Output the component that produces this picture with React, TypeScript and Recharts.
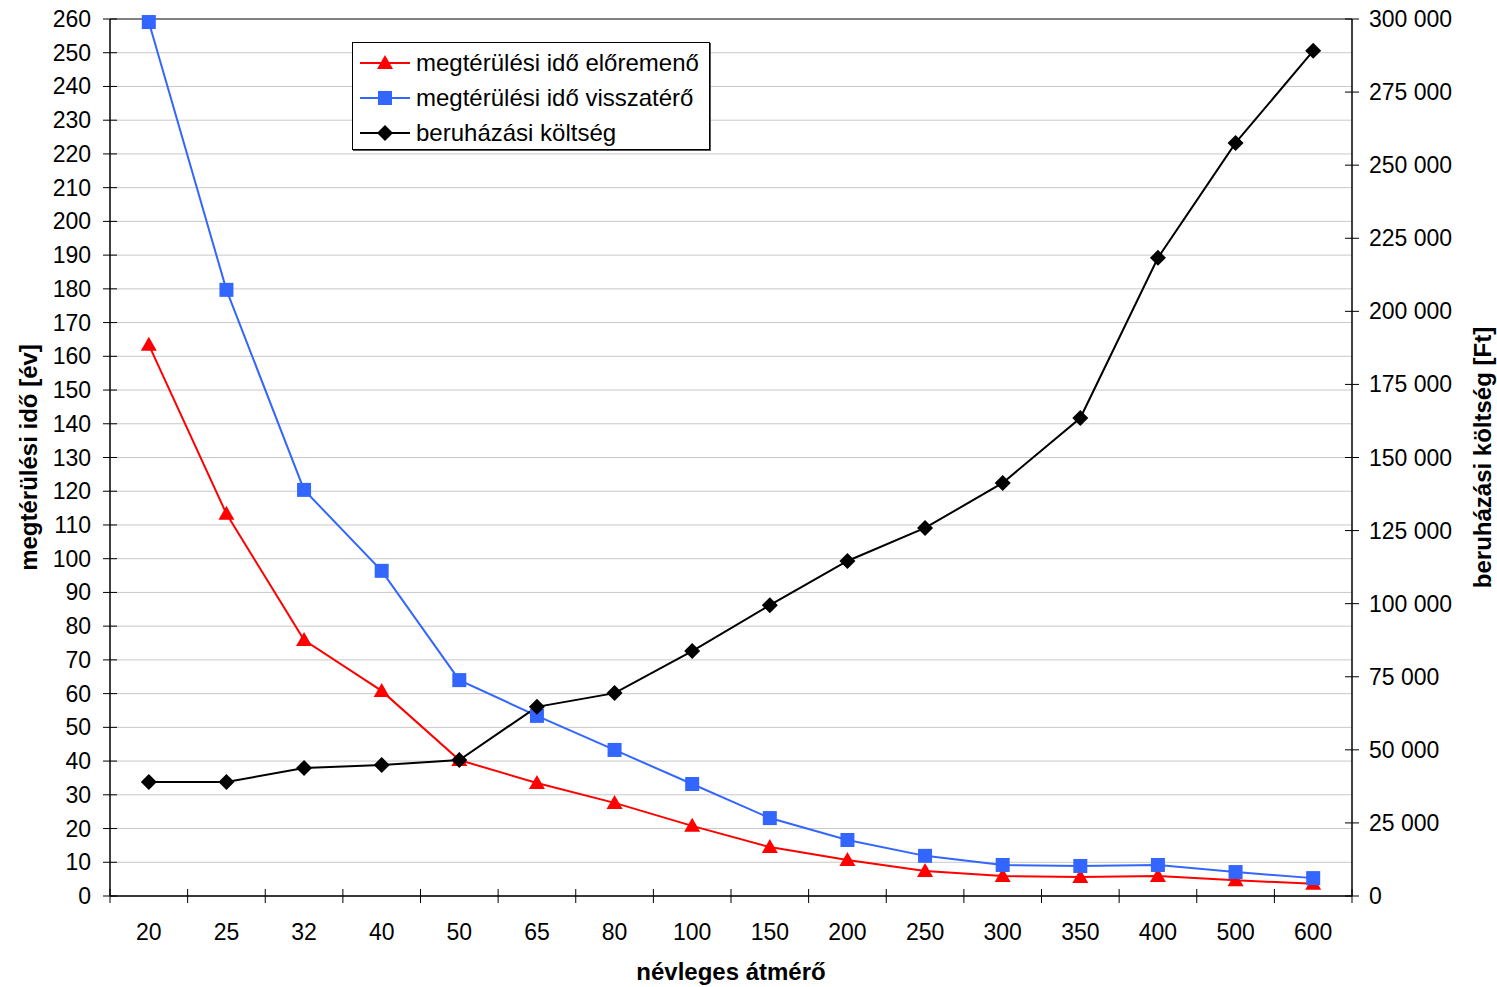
import React from 'react';
import {
  ComposedChart,
  Line,
  XAxis,
  YAxis,
  CartesianGrid,
  Legend,
  ReferenceLine,
} from 'recharts';

// névleges átmérő (DN)
const diameters = ['20', '25', '32', '40', '50', '65', '80', '100', '150', '200', '250', '300', '350', '400', '500', '600'];

// megtérülési idő [év]
const supplyPayback = [163.4, 113.3, 75.9, 60.8, 40.3, 33.5, 27.6, 20.8, 14.5, 10.7, 7.4, 5.9, 5.6, 5.9, 4.7, 3.6];
const returnPayback = [259.1, 179.7, 120.4, 96.4, 64.0, 53.4, 43.3, 33.2, 23.1, 16.6, 11.9, 9.2, 8.9, 9.2, 7.1, 5.3];

// beruházási költség [Ft]
const investmentCost = [39000, 39000, 43800, 44800, 46500, 64700, 69400, 83800, 99500, 114600, 125900, 141300, 163500, 218300, 257600, 289100];

const leftTicks = [0, 10, 20, 30, 40, 50, 60, 70, 80, 90, 100, 110, 120, 130, 140, 150, 160, 170, 180, 190, 200, 210, 220, 230, 240, 250, 260];
const rightTicks = [0, 25000, 50000, 75000, 100000, 125000, 150000, 175000, 200000, 225000, 250000, 275000, 300000];

const data = diameters.map((d, i) => ({
  d,
  supply: supplyPayback[i],
  ret: returnPayback[i],
  cost: investmentCost[i],
}));

const W = 1497;
const H = 987;
const PLOT_LEFT = 110;
const PLOT_RIGHT = 1352;
const BAND = (PLOT_RIGHT - PLOT_LEFT) / diameters.length;
const FONT = '"Liberation Sans", Arial, Helvetica, sans-serif';
const TICK_FS = 23;
const TITLE_FS = 24;

type Shape = 'triangle' | 'square' | 'diamond';

const series: { key: string; name: string; color: string; shape: Shape; axis: string }[] = [
  { key: 'supply', name: 'megtérülési idő előremenő', color: '#ff0000', shape: 'triangle', axis: 'left' },
  { key: 'ret', name: 'megtérülési idő visszatérő', color: '#3366ff', shape: 'square', axis: 'left' },
  { key: 'cost', name: 'beruházási költség', color: '#000000', shape: 'diamond', axis: 'right' },
];

function Marker({ cx, cy, shape, color }: { cx: number; cy: number; shape: Shape; color: string }) {
  if (shape === 'triangle') {
    return <polygon points={`${cx},${cy - 8} ${cx - 8},${cy + 6} ${cx + 8},${cy + 6}`} fill={color} />;
  }
  if (shape === 'square') {
    return <rect x={cx - 7} y={cy - 7} width={14} height={14} fill={color} />;
  }
  return <polygon points={`${cx},${cy - 8} ${cx + 8},${cy} ${cx},${cy + 8} ${cx - 8},${cy}`} fill={color} />;
}

function makeDot(shape: Shape, color: string) {
  return (props: any) => {
    const { cx, cy, index } = props;
    if (cx == null || cy == null) return <g key={index} />;
    return <Marker key={index} cx={cx} cy={cy} shape={shape} color={color} />;
  };
}

function XTick(props: any) {
  const { x, y, payload, index } = props;
  return (
    <g>
      <line x1={x - BAND / 2} x2={x - BAND / 2} y1={y - 7} y2={y + 7} stroke="#000" />
      {index === diameters.length - 1 && (
        <line x1={x + BAND / 2} x2={x + BAND / 2} y1={y - 7} y2={y + 7} stroke="#000" />
      )}
      <text x={x} y={y + 44} textAnchor="middle" fontSize={TICK_FS} fill="#000" fontFamily={FONT}>
        {payload.value}
      </text>
    </g>
  );
}

function LeftTick(props: any) {
  const { x, y, payload } = props;
  return (
    <g>
      <line x1={x - 7} x2={x + 7} y1={y} y2={y} stroke="#000" />
      <text x={x - 19} y={y + 8} textAnchor="end" fontSize={TICK_FS} fill="#000" fontFamily={FONT}>
        {payload.value}
      </text>
    </g>
  );
}

function formatFt(v: number) {
  return v === 0 ? '0' : `${v / 1000} 000`;
}

function RightTick(props: any) {
  const { x, y, payload } = props;
  return (
    <g>
      <line x1={x - 7} x2={x + 7} y1={y} y2={y} stroke="#000" />
      <text x={x + 17} y={y + 8} textAnchor="start" fontSize={TICK_FS} fill="#000" fontFamily={FONT}>
        {formatFt(payload.value)}
      </text>
    </g>
  );
}

function VerticalTitle({ viewBox, dx, text }: any) {
  const cx = viewBox.x + dx;
  const cy = viewBox.y + viewBox.height / 2;
  return (
    <text
      x={cx}
      y={cy}
      transform={`rotate(-90 ${cx} ${cy})`}
      textAnchor="middle"
      dominantBaseline="central"
      fontSize={TITLE_FS}
      fontWeight="bold"
      fill="#000"
      fontFamily={FONT}
    >
      {text}
    </text>
  );
}

function BottomTitle({ viewBox }: any) {
  return (
    <text
      x={viewBox.x + viewBox.width / 2}
      y={viewBox.y + 84}
      textAnchor="middle"
      fontSize={TITLE_FS}
      fontWeight="bold"
      fill="#000"
      fontFamily={FONT}
    >
      névleges átmérő
    </text>
  );
}

function LegendBox() {
  return (
    <div
      style={{
        position: 'relative',
        width: 356,
        height: 106,
        border: '1px solid #000',
        boxShadow: '1px 1px 0 #555',
        background: '#fff',
        fontFamily: FONT,
        fontSize: TITLE_FS,
        color: '#000',
        boxSizing: 'content-box',
      }}
    >
      {series.map((s, i) => (
        <div
          key={s.key}
          style={{ position: 'absolute', left: 7, top: 7 + i * 35, height: 26, display: 'flex', alignItems: 'center' }}
        >
          <svg width={56} height={26} style={{ display: 'block' }}>
            <line x1={0} x2={50} y1={13} y2={13} stroke={s.color} strokeWidth={2} />
            <Marker cx={25} cy={13} shape={s.shape} color={s.color} />
          </svg>
          <span style={{ whiteSpace: 'nowrap', lineHeight: '26px' }}>{s.name}</span>
        </div>
      ))}
    </div>
  );
}

export default function App() {
  return (
    <div style={{ position: 'absolute', left: 0, top: 0, width: W, height: H, background: '#fff' }}>
      <ComposedChart width={W} height={H} data={data} margin={{ top: 19, right: 0, bottom: 31, left: 0 }}>
        <CartesianGrid yAxisId="left" vertical={false} stroke="#c8c8c8" strokeWidth={1} />
        <XAxis
          dataKey="d"
          type="category"
          height={60}
          interval={0}
          padding={{ left: BAND / 2, right: BAND / 2 }}
          tickSize={0}
          tickMargin={0}
          tickLine={false}
          axisLine={{ stroke: '#000', strokeWidth: 1.5 }}
          tick={<XTick />}
          label={<BottomTitle />}
        />
        <YAxis
          yAxisId="left"
          width={110}
          domain={[0, 260]}
          ticks={leftTicks}
          interval={0}
          tickSize={0}
          tickMargin={0}
          tickLine={false}
          axisLine={{ stroke: '#000', strokeWidth: 1.5 }}
          tick={<LeftTick />}
          label={<VerticalTitle dx={28} text="megtérülési idő [év]" />}
        />
        <YAxis
          yAxisId="right"
          orientation="right"
          width={145}
          domain={[0, 300000]}
          ticks={rightTicks}
          interval={0}
          tickSize={0}
          tickMargin={0}
          tickLine={false}
          axisLine={{ stroke: '#000', strokeWidth: 1.5 }}
          tick={<RightTick />}
          label={<VerticalTitle dx={130} text="beruházási költség [Ft]" />}
        />
        <ReferenceLine yAxisId="left" y={260} stroke="#808080" strokeWidth={2} />
        {series.map((s) => (
          <Line
            key={s.key}
            yAxisId={s.axis}
            dataKey={s.key}
            name={s.name}
            stroke={s.color}
            strokeWidth={2}
            dot={makeDot(s.shape, s.color)}
            activeDot={false}
            isAnimationActive={false}
          />
        ))}
        <Legend
          layout="vertical"
          align="center"
          verticalAlign="middle"
          content={<LegendBox />}
          wrapperStyle={{ left: 352, top: 42, width: 358, height: 108 }}
        />
      </ComposedChart>
    </div>
  );
}
